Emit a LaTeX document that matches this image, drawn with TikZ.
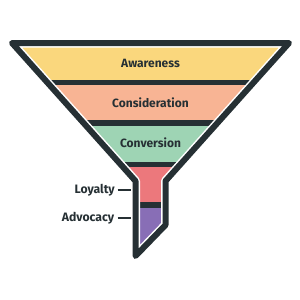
\documentclass[tikz,border=0pt]{standalone}
\usepackage{fontspec}
\setmainfont{Fira Sans}
\definecolor{dk}{HTML}{263034}
\definecolor{yel}{HTML}{FAD77D}
\definecolor{pea}{HTML}{F8B494}
\definecolor{grn}{HTML}{9ED4B4}
\definecolor{pnk}{HTML}{EC787C}
\definecolor{pur}{HTML}{886EB6}
\tikzset{
  bandlabel/.style={text=dk, font=\fontsize{12}{14}\selectfont\bfseries, inner sep=0pt},
  sidelabel/.style={text=dk, font=\fontsize{12.2}{14}\selectfont\bfseries, inner sep=0pt, anchor=base east},
  sep/.style={dk, line width=5.5pt},
  tick/.style={dk, line width=2pt},
  outline/.style={dk, line width=6pt, line join=round},
  gap/.style={white, line width=9pt, line join=round}
}
\begin{document}
\begin{tikzpicture}[x=1pt,y=-1pt]
\useasboundingbox (0,0) rectangle (300,300);
\coordinate (TL) at (12,43);
\coordinate (TR) at (289,43);
\coordinate (NR) at (165.5,181);
\coordinate (WR) at (165.5,225);
\coordinate (B) at (135.5,256);
\coordinate (NL) at (135.5,181);
\def\funnelpath{(TL) -- (TR) -- (NR) -- (WR) -- (B) -- (NL) -- cycle}
\begin{scope}
  \clip \funnelpath;
  \fill[yel] (0,0) rectangle (300,82.5);
  \fill[pea] (0,82.5) rectangle (300,123);
  \fill[grn] (0,123) rectangle (300,164.5);
  \fill[pnk] (0,164.5) rectangle (300,205);
  \fill[pur] (0,205) rectangle (300,300);
  \draw[sep] (0,82.5) -- (300,82.5);
  \draw[sep] (0,123) -- (300,123);
  \draw[sep] (0,164.5) -- (300,164.5);
  \draw[sep] (0,205) -- (300,205);
\end{scope}
\coordinate (t1) at (117.5,190);
\coordinate (t2) at (117.5,218);
\draw[tick] (t1) -- (t1 -| NL);
\draw[tick] (t2) -- (t2 -| NL);
\draw[gap] \funnelpath;
\draw[outline] \funnelpath;
\node[bandlabel] (aw) at (150.5,63) {Awareness};
\node[bandlabel] (co) at (150.5,103) {Consideration};
\node[bandlabel] (cv) at (150.5,143) {Conversion};
\node[sidelabel] (lo) at (115,193.3) {Loyalty};
\node[sidelabel] (ad) at (114.5,221.7) {Advocacy};
\end{tikzpicture}
\end{document}
